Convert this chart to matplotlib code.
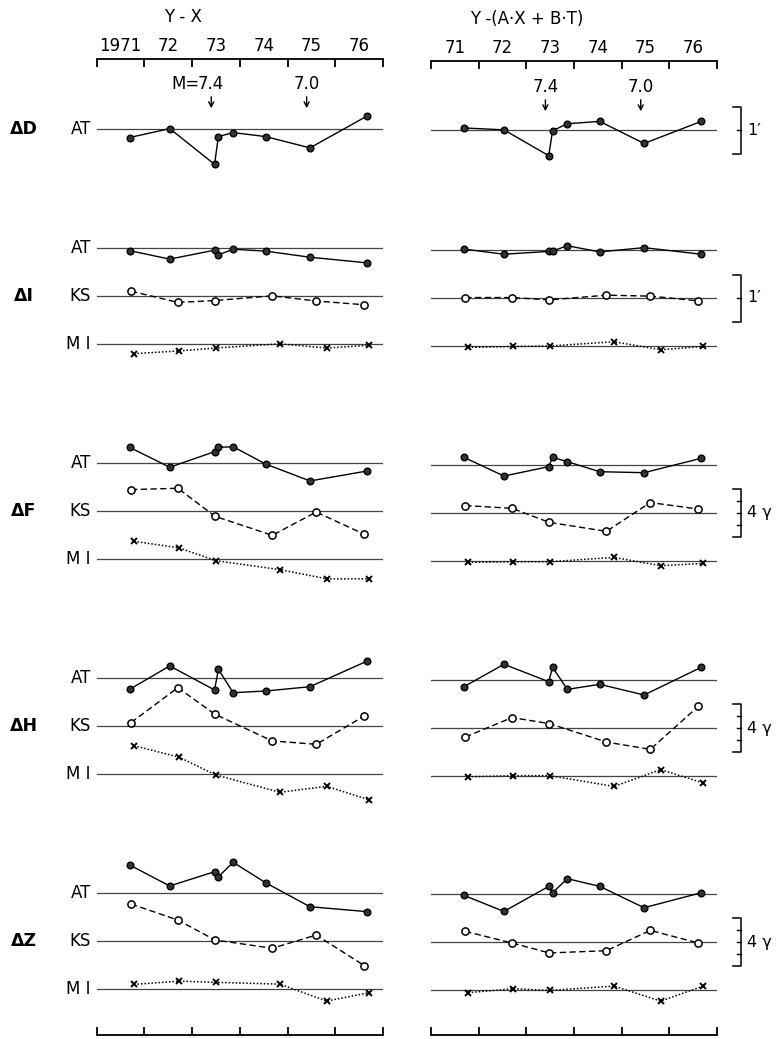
import matplotlib.pyplot as plt

# epochs of the repeat surveys (decimal year)
at_t = [1971.69, 1972.53, 1973.47, 1973.55, 1973.86, 1974.54, 1975.47, 1976.67]
ks_t = [1971.72, 1972.70, 1973.48, 1974.68, 1975.60, 1976.61]
mi_t = [1971.78, 1972.73, 1973.49, 1974.84, 1975.82, 1976.71]

# Y - X   (D, I in minutes of arc; F, H, Z in gamma)
d_at_l = [-0.19, 0.00, -0.76, -0.17, -0.085, -0.17, -0.41, 0.27]
i_at_l = [-0.05, -0.23, -0.04, -0.14, -0.02, -0.06, -0.19, -0.31]
i_ks_l = [0.11, -0.13, -0.09, 0.01, -0.10, -0.18]
i_mi_l = [-0.20, -0.14, -0.08, 0.01, -0.08, -0.02]
f_at_l = [1.33, -0.33, 0.97, 1.33, 1.38, -0.06, -1.47, -0.64]
f_ks_l = [1.81, 1.92, -0.42, -2.00, -0.06, -1.92]
f_mi_l = [1.50, 0.95, -0.11, -0.86, -1.63, -1.63]
h_at_l = [-0.92, 1.03, -0.97, 0.75, -1.20, -1.06, -0.70, 1.44]
h_ks_l = [0.31, 3.22, 1.00, -1.22, -1.50, 0.86]
h_mi_l = [2.39, 1.42, -0.05, -1.50, -1.00, -2.13]
z_at_l = [2.31, 0.56, 1.75, 1.33, 2.53, 0.83, -1.17, -1.58]
z_ks_l = [3.06, 1.72, 0.06, -0.63, 0.47, -2.08]
z_mi_l = [0.36, 0.63, 0.53, 0.38, -1.03, -0.33]

# Y - (A·X + B·T)
d_at_r = [0.05, 0.01, -0.54, -0.01, 0.14, 0.19, -0.28, 0.19]
i_at_r = [0.02, -0.09, -0.03, -0.02, 0.09, -0.04, 0.05, -0.09]
i_ks_r = [0.01, 0.01, -0.04, 0.06, 0.04, -0.06]
i_mi_r = [-0.03, -0.01, 0.00, 0.09, -0.08, -0.01]
f_at_r = [0.64, -0.92, -0.14, 0.64, 0.28, -0.56, -0.64, 0.56]
f_ks_r = [0.62, 0.39, -0.78, -1.53, 0.87, 0.33]
f_mi_r = [-0.12, -0.06, -0.06, 0.30, -0.39, -0.20]
h_at_r = [-0.56, 1.31, -0.14, 1.06, -0.78, -0.36, -1.25, 1.06]
h_ks_r = [-0.75, 0.87, 0.37, -1.17, -1.78, 1.81]
h_mi_r = [-0.06, 0.03, 0.03, -0.87, 0.53, -0.58]
z_at_r = [-0.08, -1.42, 0.67, 0.14, 1.31, 0.67, -1.11, 0.14]
z_ks_r = [0.92, -0.05, -0.88, -0.69, 1.00, -0.05]
z_mi_r = [-0.19, 0.14, 0.00, 0.36, -0.89, 0.36]

quake_t = [1973.4, 1975.4]
quake_m = ['7.4', '7.0']
years_l = ['1971', '72', '73', '74', '75', '76']
years_r = ['71', '72', '73', '74', '75', '76']

W, H = 781, 1039
fig = plt.figure(figsize=(W / 100, H / 100), dpi=100)
plt.rcParams['font.family'] = 'DejaVu Sans'


def rect(x0, x1, ytop, ybot):
    return [x0 / W, 1 - ybot / H, (x1 - x0) / W, (ybot - ytop) / H]


cols = {'L': (96.7, 383.0, 0.0), 'R': (431.0, 717.0, 1.7)}

# frame axes (time scale top and bottom)
frames = {}
for key, labels in (('L', years_l), ('R', years_r)):
    x0, x1, dy = cols[key]
    ax = fig.add_axes(rect(x0, x1, 59 + dy, 1035))
    ax.set_xlim(1971, 1977)
    ax.set_ylim(1035, 59 + dy)
    ax.patch.set_visible(False)
    for s in ('left', 'right'):
        ax.spines[s].set_visible(False)
    for s in ('top', 'bottom'):
        ax.spines[s].set_linewidth(1.3)
    ax.set_yticks([])
    ax.set_xticks(range(1971, 1978))
    ax.set_xticks([y + 0.5 for y in range(1971, 1977)], minor=True)
    ax.set_xticklabels(labels, minor=True)
    ax.tick_params(which='major', direction='in', length=5.5, width=1.3,
                   top=True, bottom=True, labeltop=False, labelbottom=False)
    ax.tick_params(which='minor', length=0, top=True, bottom=False,
                   labeltop=True, labelbottom=False, labelsize=12, pad=3)
    frames[key] = ax

fl, fr = frames['L'], frames['R']
fl.text(1972.8, 17, 'Y - X', ha='center', va='center', fontsize=12)
fr.text(1973.0, 19, 'Y -(A·X + B·T)', ha='center', va='center', fontsize=12)

for ax, dy, first in ((fl, 0, 'M='), (fr, 3, '')):
    for t, m in zip(quake_t, quake_m):
        ax.text(t, 84 + dy, m, ha='center', va='center', fontsize=12)
        if first and m == '7.4':
            ax.text(t - 0.25, 84 + dy, first, ha='right', va='center', fontsize=12)
        ax.annotate('', xy=(t, 111 + dy), xytext=(t, 94 + dy),
                    arrowprops=dict(arrowstyle='->,head_length=0.35,head_width=0.18',
                                    lw=1, color='k'))

st_at = dict(ls='-', lw=1, color='k', marker='o', ms=4.8, mfc='#333', mec='k', mew=1)
st_ks = dict(ls=(0, (4.5, 2.5)), lw=1, color='k', marker='o', ms=5.2, mfc='white',
             mec='k', mew=1.1)
st_mi = dict(ls=(0, (1, 1.3)), lw=1.1, color='k', marker='x', ms=5, mew=1.4)
styles = {'AT': (at_t, st_at), 'KS': (ks_t, st_ks), 'MI': (mi_t, st_mi)}

groups = [
    ('ΔD', 128.6, 47.0, "1′", [('AT', d_at_l, d_at_r)], 'AT', 1.0, [0]),
    ('ΔI', 248.3, 47.0, "1′", [('AT', i_at_l, i_at_r), ('KS', i_ks_l, i_ks_r),
                              ('MI', i_mi_l, i_mi_r)], 'KS', 1.0, [0]),
    ('ΔF', 463.3, 12.0, '4 γ', [('AT', f_at_l, f_at_r), ('KS', f_ks_l, f_ks_r),
                               ('MI', f_mi_l, f_mi_r)], 'KS', 4.0, [-1, 0, 1]),
    ('ΔH', 678.3, 12.0, '4 γ', [('AT', h_at_l, h_at_r), ('KS', h_ks_l, h_ks_r),
                               ('MI', h_mi_l, h_mi_r)], 'KS', 4.0, [-1, 0, 1]),
    ('ΔZ', 892.7, 12.0, '4 γ', [('AT', z_at_l, z_at_r), ('KS', z_ks_l, z_ks_r),
                               ('MI', z_mi_l, z_mi_r)], 'KS', 4.0, [-1, 0, 1]),
]

HALF = 42
for name, ytop, scale, unit, rows, bar_row, span, bar_ticks in groups:
    for i, (row, vl, vr) in enumerate(rows):
        py = ytop + 48 * i
        t, st = styles[row]
        for key, vals in (('L', vl), ('R', vr)):
            x0, x1, dy = cols[key]
            c = py + dy
            ax = fig.add_axes(rect(x0, x1, c - HALF, c + HALF))
            ax.set_xlim(1971, 1977)
            ax.set_ylim(-HALF / scale, HALF / scale)
            ax.axis('off')
            ax.axhline(0, color='#444', lw=0.9, zorder=1)
            ax.plot(t, vals, zorder=3, clip_on=False, **st)
            if key == 'R' and row == bar_row:
                h = span / 2
                xv, xc = 1977.5, 1977.33
                ax.plot([xc, xv, xv, xc], [h, h, -h, -h], color='k', lw=1.1,
                        clip_on=False)
                for b in bar_ticks:
                    ax.plot([xv - 0.09, xv], [b * span / 4 if span > 1 else 0] * 2,
                            color='k', lw=1, clip_on=False)
                ax.text(1977.63, 0, unit, ha='left', va='center', fontsize=11.5,
                        clip_on=False)
        fig.text(91 / W, 1 - py / H, row if row != 'MI' else 'M I', ha='right',
                 va='center', fontsize=12)
    fig.text(24 / W, 1 - (ytop + (48 if len(rows) > 1 else 0)) / H, name,
             ha='center', va='center', fontsize=12.5, fontweight='bold')

fig.savefig('out.png', dpi=100)
